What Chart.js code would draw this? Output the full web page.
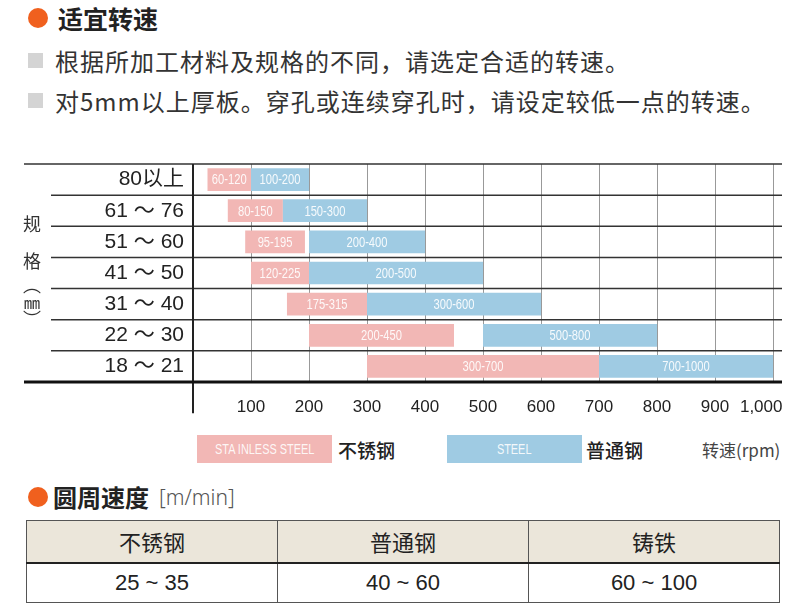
<!DOCTYPE html>
<html lang="zh">
<head>
<meta charset="UTF-8">
<title>适宜转速</title>
<style>
    * { margin: 0; padding: 0; box-sizing: border-box; }
    body {
        width: 790px; height: 607px; overflow: hidden; position: relative;
        background: #fff; color: #333;
        font-family: 'Liberation Sans', 'Noto Sans CJK SC', sans-serif;
    }
    .abs { position: absolute; white-space: nowrap; }
    .dot { width: 20px; height: 20px; border-radius: 50%; background: #f0601e; }
    .sq { width: 15px; height: 15px; background: #d4d4d4; }
    .h1 { font-family: 'Noto Sans CJK SC', sans-serif; font-weight: 700; color: #222; line-height: 30px; }
    .txt { font-family: 'Noto Sans CJK SC', sans-serif; font-size: 24px; letter-spacing: 1px; line-height: 30px; color: #333; }
    .ytitle { font-family: 'Noto Sans CJK SC', sans-serif; font-size: 18px; color: #333; line-height: 20px; width: 20px; text-align: center; }
    .vert { writing-mode: vertical-rl; height: auto; line-height: 20px; }
    .vert span { text-combine-upright: all; font-size: 16px; }
    #chartWrap { position: absolute; left: 0; top: 150px; width: 790px; height: 275px; }
    .key {
        height: 28px; width: 135px; line-height: 28px; text-align: center; color: rgba(255,255,255,0.9);
        font-family: 'Liberation Sans', sans-serif; font-size: 14px;
    }
    .key span { display: inline-block; transform: scaleX(0.78); }
    .keytxt { font-family: 'Noto Sans CJK SC', sans-serif; font-size: 19px; font-weight: 500; color: #222; line-height: 28px; }
    table {
        position: absolute; left: 26px; top: 520px; width: 754px;
        border-collapse: collapse; table-layout: fixed; border: 1.5px solid #333;
    }
    td { border: 1px solid #555; text-align: center; font-size: 22px; color: #222; }
    tr.head td { height: 42px; background: #ebe6da; border-bottom: 2px solid #222; font-family: 'Noto Sans CJK SC', sans-serif; }
    tr.body td { height: 40px; }
</style>
</head>
<body>
    <div class="abs dot" style="left:28px; top:8px;"></div>
    <div class="abs h1" style="left:58px; top:3px; font-size:25px;">适宜转速</div>

    <div class="abs sq" style="left:28px; top:53px;"></div>
    <div class="abs txt" style="left:55px; top:46px;">根据所加工材料及规格的不同，请选定合适的转速。</div>
    <div class="abs sq" style="left:28px; top:93px;"></div>
    <div class="abs txt" style="left:55px; top:86px;">对5mm以上厚板。穿孔或连续穿孔时，请设定较低一点的转速。</div>

    <div id="chartWrap"><canvas id="speedChart" width="790" height="275"></canvas></div>

    <div class="abs ytitle" style="left:22px; top:213px;">规</div>
    <div class="abs ytitle" style="left:22px; top:250px;">格</div>
    <div class="abs ytitle vert" style="left:22px; top:276px;">（<span>mm</span>）</div>

    <div id="legend"></div>
    <div class="abs" style="left:702px; top:436px; font-size:17px; color:#444; line-height:28px; font-family:'Noto Sans CJK SC', sans-serif;">转速(rpm)</div>

    <div class="abs dot" style="left:28px; top:487px;"></div>
    <div class="abs h1" style="left:53px; top:482px; font-size:24px;">圆周速度</div>
    <div class="abs" style="left:159px; top:483px; font-size:21px; line-height:28px; color:#555; font-family:'Noto Sans', sans-serif; font-weight:300;">[m/min]</div>

    <table id="speedTable"></table>

    <script src="https://cdn.jsdelivr.net/npm/chart.js@4.4.0/dist/chart.umd.min.js"></script>
    <script>
        // Data
        const sizes = ['80以上', '61 ～ 76', '51 ～ 60', '41 ～ 50', '31 ～ 40', '22 ～ 30', '18 ～ 21'];
        const stainless = [[25, 100], [60, 155], [90, 193], [100, 200], [162, 300], [200, 450], [300, 700]];
        const steel = [[100, 200], [155, 300], [200, 400], [200, 500], [300, 600], [500, 800], [700, 1000]];
        const stainlessLabels = ['60-120', '80-150', '95-195', '120-225', '175-315', '200-450', '300-700'];
        const steelLabels = ['100-200', '150-300', '200-400', '200-500', '300-600', '500-800', '700-1000'];
        const xTickLabels = ['', '100', '200', '300', '400', '500', '600', '700', '800', '900', '1,000'];

        const legendItems = ['STA INLESS STEEL', 'STEEL'];
        const legendNames = ['不锈钢', '普通钢'];
        const tableHeads = ['不锈钢', '普通钢', '铸铁'];
        const tableValues = ['25 ~ 35', '40 ~ 60', '60 ~ 100'];

        const PINK = '#f2b7b5';
        const BLUE = '#9fcbe3';

        // Legend
        const legend = document.getElementById('legend');
        [[197, 338, PINK], [447, 586, BLUE]].forEach(([bx, tx, col], i) => {
            legend.insertAdjacentHTML('beforeend',
                `<div class="abs key" style="left:${bx}px; top:435px; background:${col};"><span>${legendItems[i]}</span></div>` +
                `<div class="abs keytxt" style="left:${tx}px; top:436px;">${legendNames[i]}</div>`);
        });

        // Table
        const table = document.getElementById('speedTable');
        table.innerHTML =
            '<tr class="head">' + tableHeads.map(h => `<td>${h}</td>`).join('') + '</tr>' +
            '<tr class="body">' + tableValues.map(v => `<td>${v}</td>`).join('') + '</tr>';

        // Row lines, axis line and bar labels
        const framePlugin = {
            id: 'frame',
            beforeDatasetsDraw(chart) {
                const { ctx, chartArea: a, scales: { y } } = chart;
                const line = (x1, y1, x2, y2, w, c) => {
                    ctx.beginPath();
                    ctx.lineWidth = w;
                    ctx.strokeStyle = c;
                    ctx.moveTo(x1, y1);
                    ctx.lineTo(x2, y2);
                    ctx.stroke();
                };
                ctx.save();
                for (let i = 1; i < sizes.length; i++) {
                    const yy = (y.getPixelForValue(i - 1) + y.getPixelForValue(i)) / 2;
                    line(51, yy, a.right + 9, yy, 1.5, '#333');
                }
                line(24, a.top, a.right + 9, a.top, 1.5, '#333');
                const rowH = (a.bottom - a.top) / sizes.length;
                line(a.left, a.top, a.left, a.bottom + rowH, 2, '#222');
                ctx.restore();
            },
            afterDatasetsDraw(chart) {
                const { ctx, chartArea: a } = chart;
                ctx.save();
                ctx.beginPath();
                ctx.lineWidth = 3;
                ctx.strokeStyle = '#111';
                ctx.moveTo(24, a.bottom);
                ctx.lineTo(a.right + 9, a.bottom);
                ctx.stroke();

                // condensed white labels in the middle of each bar
                ctx.font = "14px 'Liberation Sans', sans-serif";
                ctx.fillStyle = 'rgba(255,255,255,0.9)';
                ctx.textAlign = 'center';
                ctx.textBaseline = 'middle';
                chart.data.datasets.forEach((ds, di) => {
                    chart.getDatasetMeta(di).data.forEach((bar, i) => {
                        ctx.save();
                        ctx.translate((bar.x + bar.base) / 2, bar.y + 1);
                        ctx.scale(0.8, 1);
                        ctx.fillText(ds.labelsText[i], 0, 0);
                        ctx.restore();
                    });
                });
                ctx.restore();
            }
        };

        new Chart(document.getElementById('speedChart'), {
            type: 'bar',
            data: {
                labels: sizes,
                datasets: [
                    {
                        label: '不锈钢',
                        data: stainless,
                        labelsText: stainlessLabels,
                        backgroundColor: PINK,
                        grouped: false,
                        order: 1
                    },
                    {
                        label: '普通钢',
                        data: steel,
                        labelsText: steelLabels,
                        backgroundColor: BLUE,
                        grouped: false,
                        order: 0
                    }
                ]
            },
            options: {
                indexAxis: 'y',
                responsive: false,
                animation: false,
                barPercentage: 0.73,
                categoryPercentage: 1,
                layout: { padding: { top: 14, right: 17, left: 0, bottom: 0 } },
                plugins: { legend: { display: false }, tooltip: { enabled: false } },
                scales: {
                    x: {
                        min: 0,
                        max: 1000,
                        ticks: {
                            stepSize: 100,
                            padding: 15,
                            autoSkip: false,
                            maxRotation: 0,
                            minRotation: 0,
                            color: '#222',
                            font: { family: "'Liberation Sans', sans-serif", size: 17 },
                            // last label sits a little left of its tick, as in the original
                            callback: (v, i) => i === xTickLabels.length - 1
                                ? xTickLabels[i] + '\u00a0'.repeat(5)
                                : xTickLabels[i]
                        },
                        grid: { color: '#999', lineWidth: 1, drawTicks: false },
                        border: { display: false },
                        afterFit: s => { s.height = 43; s.paddingLeft = 0; s.paddingRight = 0; }
                    },
                    y: {
                        ticks: {
                            padding: 9,
                            color: '#222',
                            font: { family: "'Liberation Sans', 'Noto Sans CJK SC', sans-serif", size: 21 }
                        },
                        grid: { display: false, drawTicks: false },
                        border: { display: false },
                        afterFit: s => { s.width = 193; s.paddingTop = 0; s.paddingBottom = 0; }
                    }
                }
            },
            plugins: [framePlugin]
        });
    </script>
</body>
</html>
